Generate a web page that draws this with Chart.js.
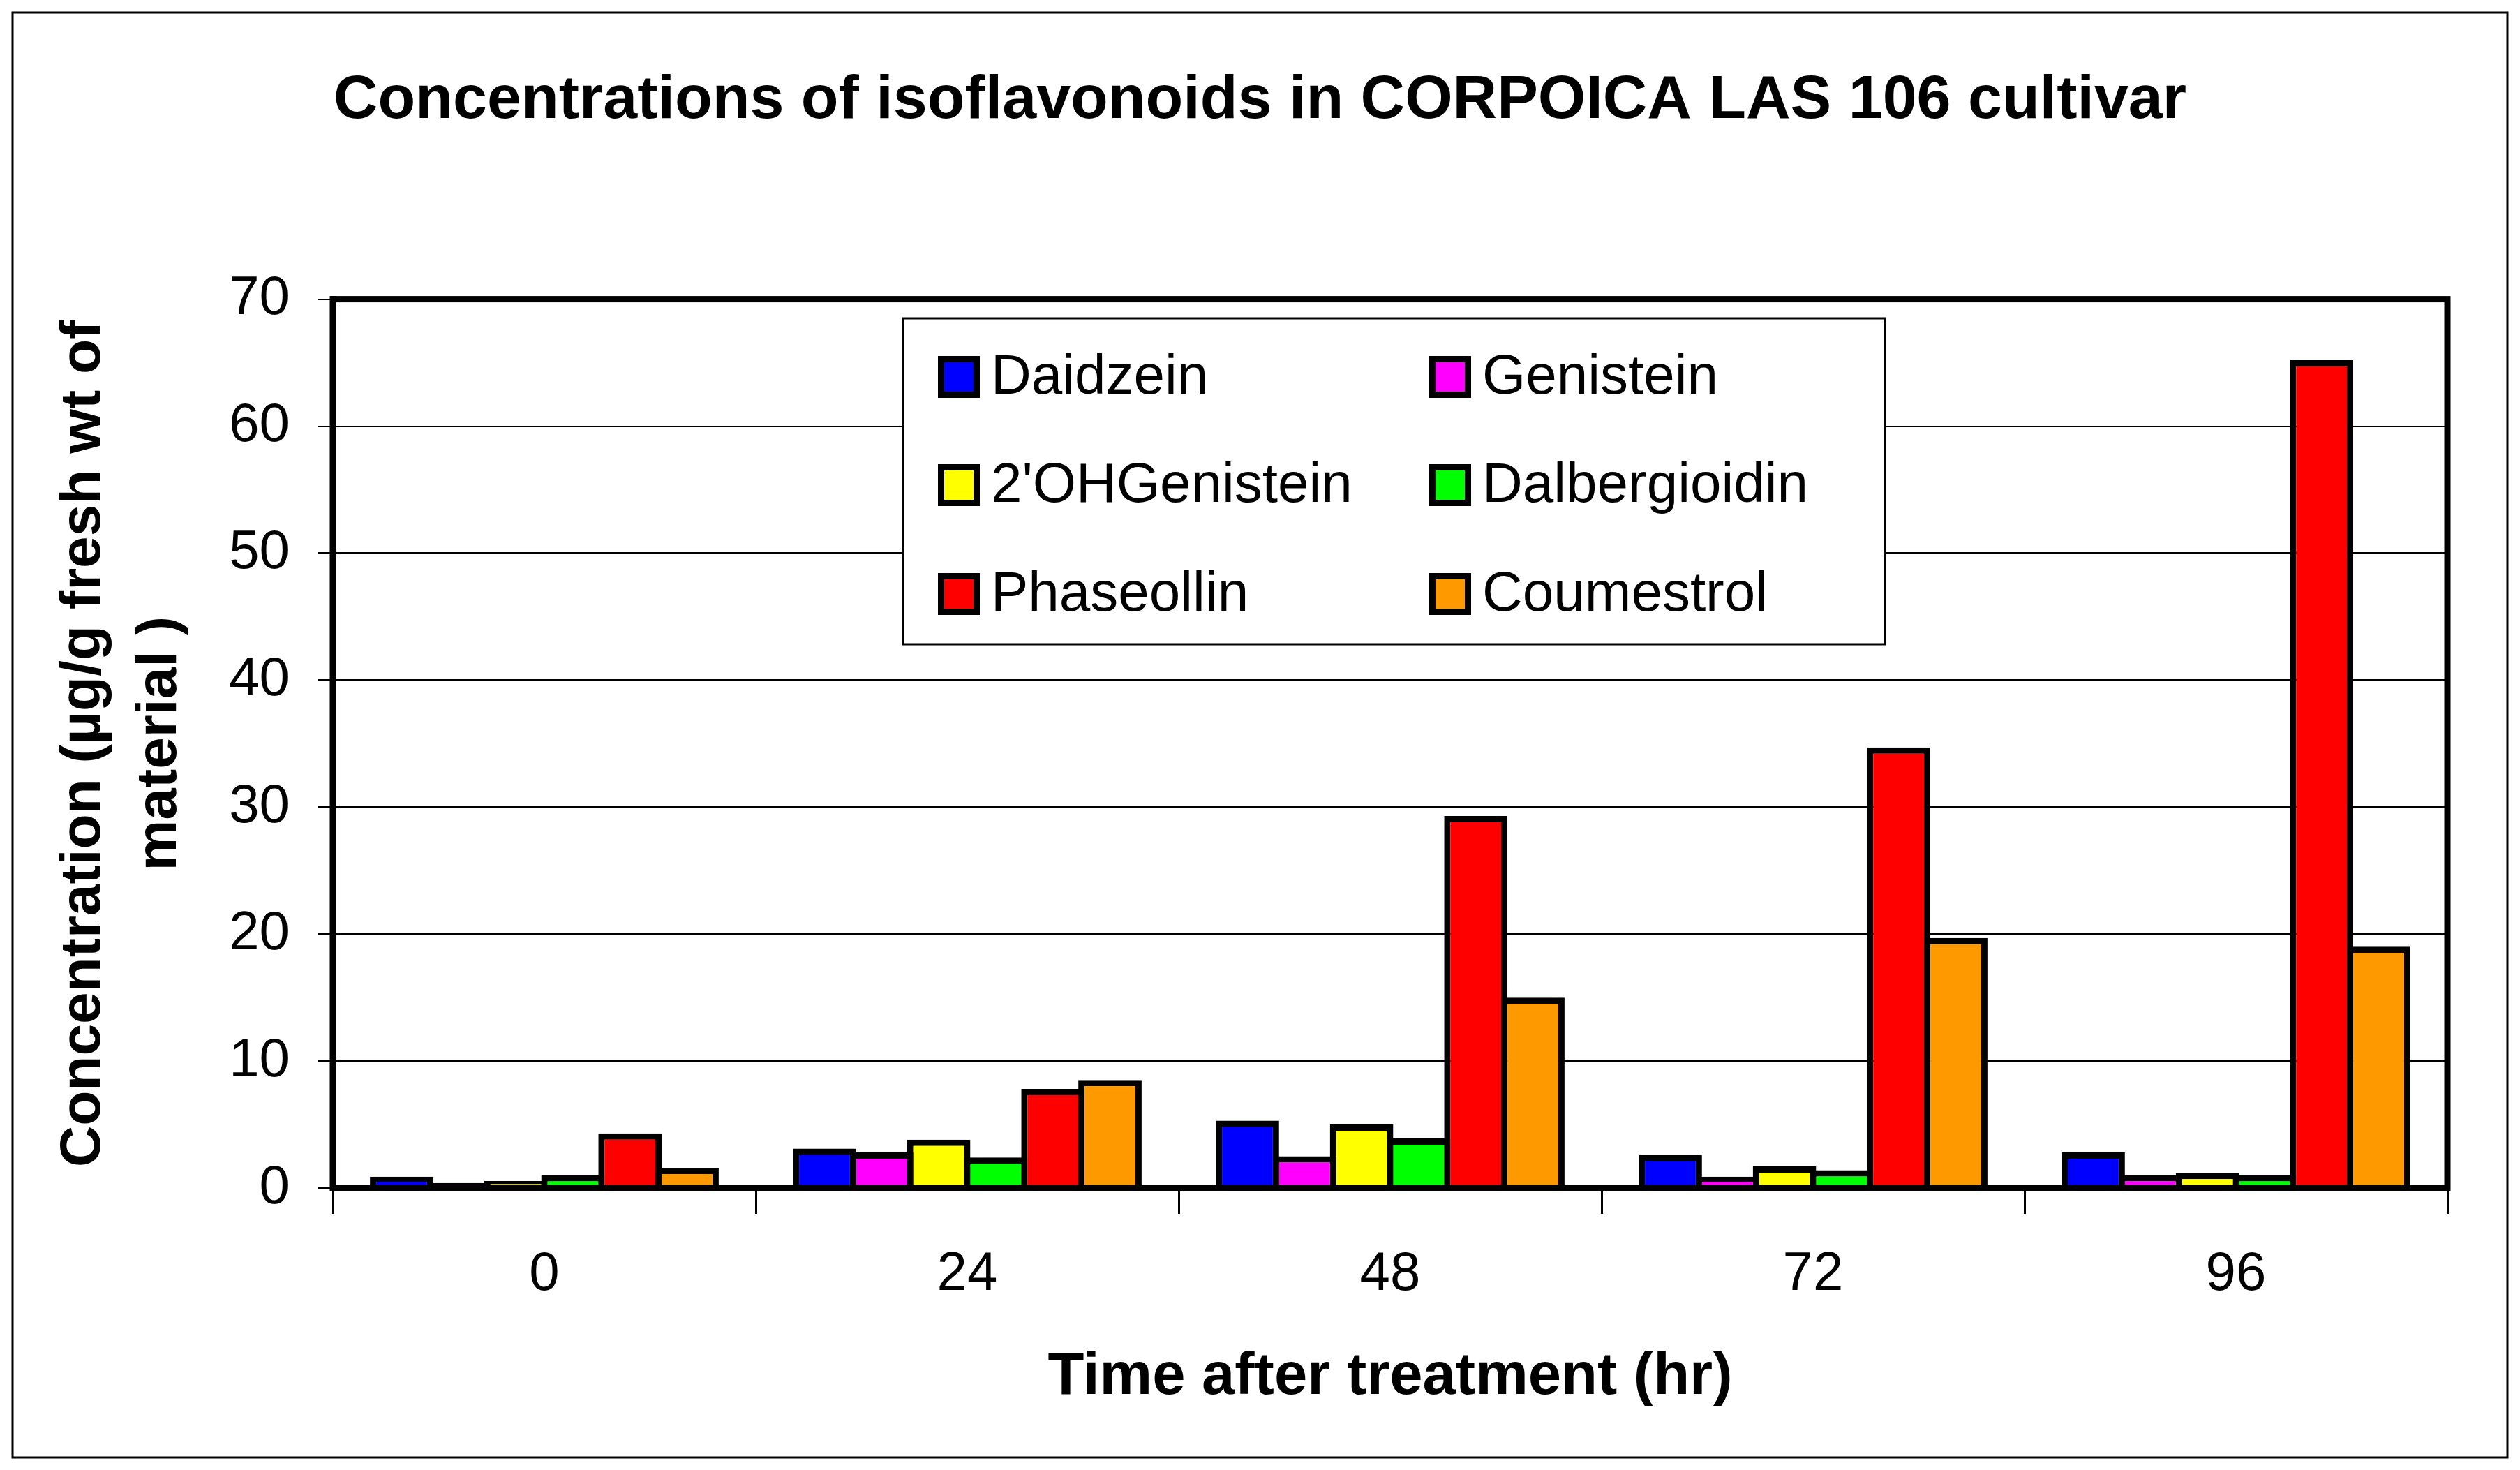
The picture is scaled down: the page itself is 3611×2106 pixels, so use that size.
<!DOCTYPE html>
<html>
<head>
<meta charset="utf-8">
<title>Concentrations of isoflavonoids</title>
<script src="https://cdn.jsdelivr.net/npm/chart.js@4.4.1/dist/chart.umd.min.js"></script>
<style>
  html, body { margin: 0; padding: 0; background: #fff; }
  #wrap { position: relative; width: 3611px; height: 2106px; }
</style>
</head>
<body>
<div id="wrap"><canvas id="chart" width="3611" height="2106"></canvas></div>
<script>
'use strict';

// time points (hr)
var hours = ['0', '24', '48', '72', '96'];

// concentrations, ug/g fresh wt
var daidzein      = [0.9, 3.1, 5.3, 2.6, 2.8];
var genistein     = [0.4, 2.8, 2.5, 0.9, 1.0];
var ohGenistein   = [0.55, 3.8, 5.0, 1.7, 1.2];
var dalbergioidin = [1.0, 2.4, 3.9, 1.4, 1.0];
var phaseollin    = [4.3, 7.8, 29.3, 34.7, 65.2];
var coumestrol    = [1.6, 8.5, 15.0, 19.7, 19.0];

var yTicks = [0, 10, 20, 30, 40, 50, 60, 70];

var FONT = '"Liberation Sans", Arial, sans-serif';

function series(label, data, color) {
    return {
        label: label,
        data: data,
        backgroundColor: color,
        borderColor: '#000',
        borderWidth: 9,
        borderSkipped: 'start',
        barPercentage: 1.11,
        categoryPercentage: 0.81
    };
}

// outer frame + plot rectangle
var framePlugin = {
    id: 'frame',
    afterDatasetsDraw: function(chart) {
        var ctx = chart.ctx, a = chart.chartArea;
        ctx.save();
        ctx.strokeStyle = '#000';
        ctx.lineWidth = 9;
        ctx.strokeRect(a.left, a.top, a.right - a.left, a.bottom - a.top);
        ctx.lineWidth = 3;
        ctx.strokeRect(18, 18, chart.width - 36, chart.height - 36);
        ctx.restore();
    }
};

// boxed two-column legend, built from the datasets
var boxLegend = {
    id: 'boxLegend',
    afterDraw: function(chart) {
        var ctx = chart.ctx;
        var box = { x: 1294, y: 456, w: 1407, h: 467 };
        var cols = [1344, 2048];
        var rows = [540, 695, 851];
        ctx.save();
        ctx.fillStyle = '#fff';
        ctx.fillRect(box.x, box.y, box.w, box.h);
        ctx.strokeStyle = '#000';
        ctx.lineWidth = 3;
        ctx.strokeRect(box.x, box.y, box.w, box.h);
        ctx.font = '80px ' + FONT;
        ctx.textBaseline = 'middle';
        ctx.textAlign = 'left';
        chart.data.datasets.forEach(function(ds, i) {
            var x = cols[i % 2], y = rows[Math.floor(i / 2)];
            ctx.fillStyle = '#000';
            ctx.fillRect(x, y - 30, 60, 60);
            ctx.fillStyle = ds.backgroundColor;
            ctx.fillRect(x + 9, y - 21, 42, 42);
            ctx.fillStyle = '#000';
            ctx.fillText(ds.label, x + 76, y + 2);
        });
        ctx.restore();
    }
};

new Chart(document.getElementById('chart'), {
    type: 'bar',
    data: {
        labels: hours,
        datasets: [
            series('Daidzein', daidzein, '#0000FF'),
            series('Genistein', genistein, '#FF00FF'),
            series("2'OHGenistein", ohGenistein, '#FFFF00'),
            series('Dalbergioidin', dalbergioidin, '#00FF00'),
            series('Phaseollin', phaseollin, '#FF0000'),
            series('Coumestrol', coumestrol, '#FF9900')
        ]
    },
    options: {
        responsive: false,
        animation: false,
        devicePixelRatio: 1,
        layout: { padding: { left: 20, right: 20, top: 0, bottom: 0 } },
        plugins: {
            legend: { display: false },
            tooltip: { enabled: false },
            title: {
                display: true,
                text: 'Concentrations of isoflavonoids in CORPOICA LAS 106 cultivar',
                color: '#000',
                font: { family: FONT, size: 88, weight: 'bold' },
                padding: { top: 92, bottom: 231 }
            }
        },
        scales: {
            x: {
                grid: {
                    offset: true,
                    drawOnChartArea: false,
                    drawTicks: true,
                    tickLength: 37,
                    tickWidth: 3,
                    tickColor: '#000'
                },
                border: { display: true, color: '#000', width: 9 },
                ticks: {
                    color: '#000',
                    padding: 41,
                    font: { family: FONT, size: 78 }
                },
                title: {
                    display: true,
                    text: 'Time after treatment (hr)',
                    color: '#000',
                    font: { family: FONT, size: 85, weight: 'bold' },
                    padding: { top: 0, bottom: 81 }
                },
                afterFit: function(s) { s.height = 404; }
            },
            y: {
                min: 0,
                max: 70,
                afterBuildTicks: function(s) {
                    s.ticks = yTicks.map(function(v) { return { value: v }; });
                },
                grid: {
                    color: '#000',
                    lineWidth: 2,
                    drawTicks: true,
                    tickLength: 21,
                    tickWidth: 2,
                    tickColor: '#000'
                },
                border: { display: true, color: '#000', width: 9 },
                ticks: {
                    color: '#000',
                    padding: 41,
                    font: { family: FONT, size: 78 }
                },
                title: {
                    display: true,
                    text: ['Concentration (\u00b5g/g fresh wt of', 'material )'],
                    color: '#000',
                    font: { family: FONT, size: 82, weight: 'bold', lineHeight: 1.34 },
                    padding: { top: 45, bottom: 0 }
                },
                afterFit: function(s) { s.width = 457; }
            },
            yRight: {
                position: 'right',
                display: true,
                grid: { display: false },
                border: { display: false },
                ticks: { display: false },
                afterFit: function(s) { s.width = 84; }
            }
        }
    },
    plugins: [framePlugin, boxLegend]
});
</script>
</body>
</html>
